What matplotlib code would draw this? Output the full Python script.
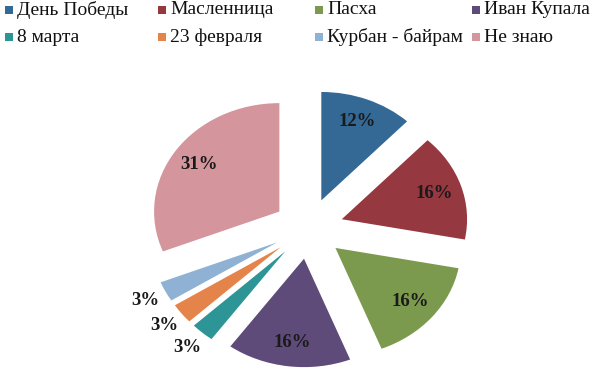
import numpy as np
import matplotlib
matplotlib.use("Agg")
import matplotlib.pyplot as plt
from matplotlib.patches import Rectangle

categories = ["День Победы", "Масленница", "Пасха", "Иван Купала",
              "8 марта", "23 февраля", "Курбан - байрам", "Не знаю"]
values = [12, 16, 16, 16, 3, 3, 3, 31]
colors = ["#346895", "#953840", "#7B9A4E", "#5E4B7A",
          "#2E9596", "#E4844A", "#8FB2D4", "#D4959D"]

SERIF = ['Liberation Serif', 'DejaVu Serif']
plt.rcParams['font.family'] = SERIF

W, H = 594, 370
fig = plt.figure(figsize=(W / 100, H / 100), dpi=100)
ax = fig.add_axes([0, 0, 1, 1])

explode_r = 0.28
wedges, texts, autotexts = ax.pie(
    values, colors=colors, startangle=90, counterclock=False,
    explode=[explode_r] * len(values), radius=1.0,
    autopct=lambda p: f"{p:.0f}%", pctdistance=0.78,
    textprops=dict(fontsize=13.5, color="#1a1a1a", fontweight='bold',
                   family=SERIF),
    wedgeprops=dict(linewidth=0))

# small slices: labels outside
for w, t, v in zip(wedges, autotexts, values):
    if v < 5:
        ang = np.deg2rad((w.theta1 + w.theta2) / 2)
        d = explode_r + 1.18
        t.set_position((d * np.cos(ang), d * np.sin(ang)))

# mapping: pixel x = 308.4 + 125.3*X, pixel y = 228.6 - 108.4*Y
sx, sy, cx, cy = 125.3, 108.4, 308.4, 228.6
ax.set_aspect('auto')
ax.set_xlim(-cx / sx, (W - cx) / sx)
ax.set_ylim(-(H - cy) / sy, cy / sy)
ax.axis('off')

# legend (pixel layout)
leg_x = [5, 158, 315, 472, 5, 158, 315, 472]
row_y = [10, 37]
for i, (name, c) in enumerate(zip(categories, colors)):
    x = leg_x[i]
    y = row_y[i // 4]
    fig.patches.append(Rectangle((x / W, 1 - (y + 4) / H), 8 / W, 8 / H,
                                 transform=fig.transFigure, facecolor=c,
                                 edgecolor='none'))
    fig.text((x + 12) / W, 1 - y / H, name, fontsize=14, va='center',
             ha='left', color="#111111", family=SERIF)

fig.savefig("out.png", dpi=100)
